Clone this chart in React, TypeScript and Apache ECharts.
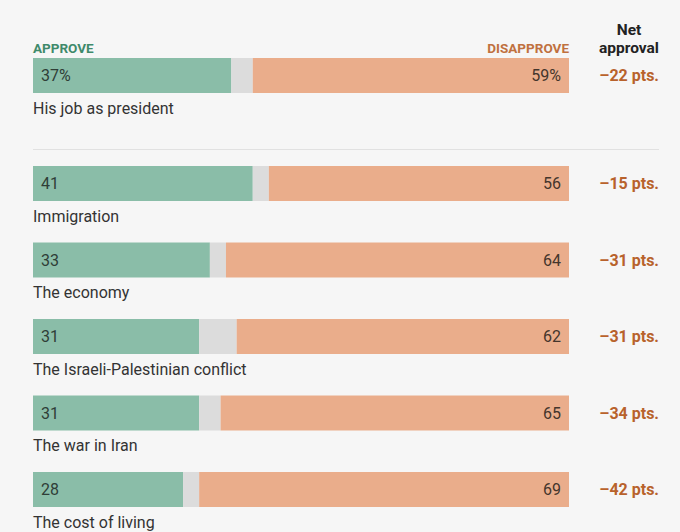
import React, { useEffect, useRef } from "react";
import * as echarts from "echarts";

const topCategory = ["His job as president"];
const topApprove = [37];
const topDisapprove = [59];
const topNet = [-22];

const categories = [
  "Immigration",
  "The economy",
  "The Israeli-Palestinian conflict",
  "The war in Iran",
  "The cost of living",
];
const approve = [41, 33, 31, 31, 28];
const disapprove = [56, 64, 62, 65, 69];
const net = [-15, -31, -31, -34, -42];

const GREEN = "#8abda8";
const GRAY = "#dcdcdc";
const ORANGE = "#eaad8b";
const BG = "#f6f6f6";
const FONT = "Roboto, 'Noto Sans', sans-serif";
const NUMFONT = "Roboto, 'Noto Sans', sans-serif";

function fmtNet(v: number) {
  return (v < 0 ? "\u2013" : "+") + Math.abs(v) + " pts.";
}

export default function App() {
  const ref = useRef<HTMLDivElement>(null);
  useEffect(() => {
    document.body.style.margin = "0";
    const chart = echarts.init(ref.current!, null, { renderer: "svg" });

    const groups = [
      { cats: topCategory, a: topApprove, d: topDisapprove, n: topNet, pct: true },
      { cats: categories, a: approve, d: disapprove, n: net, pct: false },
    ];

    const grids = [
      { left: 33, top: 58, width: 536, height: 35 },
      { left: 33, top: 145.25, width: 536, height: 382.5 },
    ];

    const xAxis: any[] = [];
    const yAxis: any[] = [];
    const series: any[] = [];

    groups.forEach((g, gi) => {
      xAxis.push({
        type: "value",
        gridIndex: gi,
        min: 0,
        max: 100,
        show: false,
      });
      yAxis.push({
        type: "category",
        gridIndex: gi,
        data: g.cats,
        inverse: true,
        position: "left",
        axisLine: { show: false },
        axisTick: { show: false },
        axisLabel: {
          inside: true,
          margin: 0,
          interval: 0,
          align: "left",
          verticalAlign: "top",
          padding: [24.5, 0, 0, 0],
          fontFamily: FONT,
          fontSize: 16,
          color: "#333333",
        },
      });
      yAxis.push({
        type: "category",
        gridIndex: gi,
        data: g.n.map(fmtNet),
        inverse: true,
        position: "right",
        axisLine: { show: false },
        axisTick: { show: false },
        axisLabel: {
          margin: 90,
          interval: 0,
          align: "right",
          fontFamily: FONT,
          fontWeight: "bold",
          fontSize: 16,
          color: "#b8622c",
        },
      });
      const yIdx = gi * 2;
      const stack = "s" + gi;
      series.push({
        type: "bar",
        name: "Approve",
        xAxisIndex: gi,
        yAxisIndex: yIdx,
        stack,
        barWidth: 35,
        data: g.a,
        itemStyle: { color: GREEN },
        label: {
          show: true,
          position: "insideLeft",
          distance: 8,
          formatter: (p: any) => p.value + (g.pct ? "%" : ""),
          fontFamily: NUMFONT,
          fontSize: 16,
          color: "#2f3d37",
        },
      });
      series.push({
        type: "bar",
        name: "No answer",
        xAxisIndex: gi,
        yAxisIndex: yIdx,
        stack,
        barWidth: 35,
        data: g.a.map((a, i) => 100 - a - g.d[i]),
        itemStyle: { color: GRAY },
      });
      series.push({
        type: "bar",
        name: "Disapprove",
        xAxisIndex: gi,
        yAxisIndex: yIdx,
        stack,
        barWidth: 35,
        data: g.d,
        itemStyle: { color: ORANGE },
        label: {
          show: true,
          position: "insideRight",
          distance: 8,
          formatter: (p: any) => p.value + (g.pct ? "%" : ""),
          fontFamily: NUMFONT,
          fontSize: 16,
          color: "#44352c",
        },
      });
    });

    chart.setOption({
      animation: false,
      backgroundColor: BG,
      grid: grids,
      xAxis,
      yAxis,
      series,
      graphic: [
        {
          type: "text",
          x: 33,
          y: 47.5,
          style: {
            text: "APPROVE",
            fontFamily: FONT,
            fontWeight: "bold",
            fontSize: 13.5,
            fill: "#3f8a6b",
            verticalAlign: "middle",
          },
        },
        {
          type: "text",
          x: 569,
          y: 47.5,
          style: {
            text: "DISAPPROVE",
            fontFamily: FONT,
            fontWeight: "bold",
            fontSize: 13.5,
            fill: "#c0713f",
            align: "right",
            verticalAlign: "middle",
          },
        },
        {
          type: "text",
          x: 629,
          y: 30,
          style: {
            text: "Net",
            fontFamily: FONT,
            fontWeight: "bold",
            fontSize: 15.5,
            fill: "#222222",
            align: "center",
            verticalAlign: "middle",
          },
        },
        {
          type: "text",
          x: 629,
          y: 47.5,
          style: {
            text: "approval",
            fontFamily: FONT,
            fontWeight: "bold",
            fontSize: 15.5,
            fill: "#222222",
            align: "center",
            verticalAlign: "middle",
          },
        },
        {
          type: "line",
          shape: { x1: 33, y1: 149.5, x2: 659, y2: 149.5 },
          style: { stroke: "#e1e1e1", lineWidth: 1 },
        },
      ],
    });
    return () => chart.dispose();
  }, []);
  return (
    <div
      ref={ref}
      style={{ width: 680, height: 532, background: BG }}
    />
  );
}
